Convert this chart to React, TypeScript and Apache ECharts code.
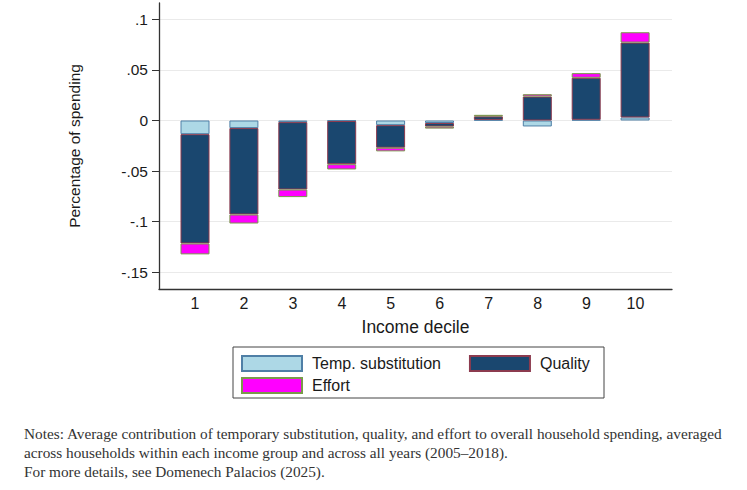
import React, { useEffect, useRef } from "react";
import * as echarts from "echarts";

const deciles = [1, 2, 3, 4, 5, 6, 7, 8, 9, 10];
const tempSubstitution = [-0.0135, -0.0075, -0.0016, -0.0005, -0.0046, -0.0025, 0.0006, -0.0059, 0.0007, 0.003];
const quality = [-0.108, -0.0854, -0.0666, -0.0427, -0.0223, -0.0035, 0.0035, 0.0237, 0.0415, 0.074];
const effort = [-0.0108, -0.0089, -0.0075, -0.0052, -0.0036, -0.002, 0.0015, 0.0023, 0.0046, 0.0102];
const yTicks = [-0.15, -0.1, -0.05, 0, 0.05, 0.1];
const seriesNames = ["Temp. substitution", "Quality", "Effort"];
const notes = [
  "Notes: Average contribution of temporary substitution, quality, and effort to overall household spending, averaged",
  "across households within each income group and across all years (2005\u20132018).",
  "For more details, see Domenech Palacios (2025).",
];

const SANS = "'Liberation Sans', Arial, sans-serif";
const Y_MIN = -0.1665;
const Y_MAX = 0.1161;

function fmt(v: number): string {
  if (Math.abs(v) < 1e-9) return "0";
  const s = String(Math.round(v * 100) / 100);
  return s.replace("0.", ".");
}

export default function App() {
  const ref = useRef<HTMLDivElement>(null);
  useEffect(() => {
    document.body.style.margin = "0";
    if (!ref.current) return;
    const chart = echarts.init(ref.current, undefined, { renderer: "svg" });
    const legendText = { fontSize: 16, color: "#1a1a1a", fontFamily: SANS, padding: [0, 0, 0, 5] };
    const option: any = {
      animation: false,
      backgroundColor: "#ffffff",
      textStyle: { fontFamily: SANS },
      grid: [
        { left: 170.55, top: 3, width: 489, height: 286, containLabel: false },
        { left: 159, top: 3, width: 513, height: 286, containLabel: false },
      ],
      xAxis: [
        {
          type: "category",
          gridIndex: 0,
          data: deciles.map(String),
          boundaryGap: true,
          show: false,
        },
        {
          type: "value",
          gridIndex: 1,
          min: 0.264,
          max: 10.746,
          name: "Income decile",
          nameLocation: "middle",
          nameGap: 29,
          nameTextStyle: { fontSize: 17.5, color: "#1a1a1a", fontFamily: SANS },
          axisLine: { show: true, onZero: false, lineStyle: { color: "#333", width: 1.3 } },
          axisTick: { show: false, customValues: deciles },
          axisLabel: { customValues: deciles, fontSize: 16, color: "#1a1a1a", margin: 6, fontFamily: SANS },
          splitLine: { show: false },
        },
      ],
      yAxis: [
        {
          type: "value",
          gridIndex: 0,
          min: Y_MIN,
          max: Y_MAX,
          show: false,
          splitLine: { show: false },
        },
        {
          type: "value",
          gridIndex: 1,
          min: Y_MIN,
          max: Y_MAX,
          name: "Percentage of spending",
          nameLocation: "middle",
          nameGap: 77,
          nameTextStyle: { fontSize: 15.5, color: "#1a1a1a", fontFamily: SANS },
          axisLine: { show: true, onZero: false, lineStyle: { color: "#333", width: 1.3 } },
          axisTick: { show: true, customValues: yTicks, length: 7, lineStyle: { color: "#333" } },
          axisLabel: { customValues: yTicks, formatter: fmt, fontSize: 15.5, color: "#1a1a1a", margin: 11, fontFamily: SANS },
          splitLine: { show: true, lineStyle: { color: "#eaeaea", width: 1 } },
        },
      ],
      legend: [
        {
          data: [seriesNames[0], seriesNames[1]],
          left: 241,
          top: 355,
          padding: 0,
          itemWidth: 60,
          itemHeight: 15,
          itemGap: 28,
          icon: "rect",
          textStyle: legendText,
        },
        {
          data: [seriesNames[2]],
          left: 241,
          top: 377,
          padding: 0,
          itemWidth: 60,
          itemHeight: 15,
          icon: "rect",
          textStyle: legendText,
        },
      ],
      graphic: [
        {
          type: "rect",
          shape: { x: 233, y: 347, width: 371, height: 51 },
          style: { fill: "none", stroke: "#444", lineWidth: 1 },
          silent: true,
        },
        ...notes.map((t, i) => ({
          type: "text",
          x: 24,
          y: 433 + i * 19,
          style: {
            text: t,
            fontSize: 15.3,
            fontFamily: "'Liberation Serif', 'Times New Roman', serif",
            fill: "#333",
            verticalAlign: "middle",
          },
          silent: true,
        })),
      ],
      series: [
        {
          name: seriesNames[0],
          type: "bar",
          xAxisIndex: 0,
          yAxisIndex: 0,
          stack: "total",
          barWidth: 29,
          data: tempSubstitution,
          itemStyle: { color: "#add8e6", borderColor: "#4f7fa6", borderWidth: 1 },
        },
        {
          name: seriesNames[1],
          type: "bar",
          xAxisIndex: 0,
          yAxisIndex: 0,
          stack: "total",
          barWidth: 29,
          data: quality,
          itemStyle: { color: "#1a476f", borderColor: "#8c3b4f", borderWidth: 1 },
        },
        {
          name: seriesNames[2],
          type: "bar",
          xAxisIndex: 0,
          yAxisIndex: 0,
          stack: "total",
          barWidth: 29,
          data: effort,
          itemStyle: { color: "#ff00ff", borderColor: "#7a9a4a", borderWidth: 1 },
        },
      ],
    };
    chart.setOption(option);
    return () => chart.dispose();
  }, []);
  return <div ref={ref} style={{ width: 747, height: 490 }} />;
}
